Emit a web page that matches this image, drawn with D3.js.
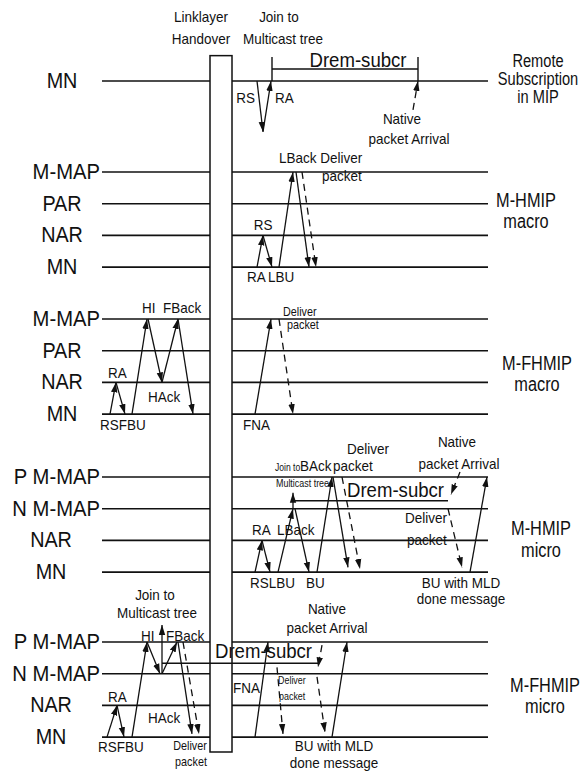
<!DOCTYPE html>
<html><head><meta charset="utf-8">
<script src="https://cdn.jsdelivr.net/npm/d3@7"></script>
<style>body{margin:0;background:#fff}svg{display:block}text{font-family:"Liberation Sans",Arial,sans-serif;fill:#111}</style>
</head><body><svg id="c" width="587" height="776"></svg>
<script>
// ---------- data ----------
const sectionTitles = [["Remote","Subscription","in MIP"],["M-HMIP","macro"],["M-FHMIP","macro"],["M-HMIP","micro"],["M-FHMIP","micro"]];
const laneNames = [["MN"],["M-MAP","PAR","NAR","MN"],["M-MAP","PAR","NAR","MN"],["P M-MAP","N M-MAP","NAR","MN"],["P M-MAP","N M-MAP","NAR","MN"]];
const timeDomain = [0, 386];
const handoverInterval = [108, 130];
// [section, t0, lane0, t1, lane1, kind]  kind: s = solid, d = dashed
const messages = [
  [0,155,0,161,1.6,"s"],[0,161,1.6,169,0,"s"],[0,311,0.91,316,0,"d"],
  [1,155,3,161,2,"s"],[1,161,2,170,3,"s"],[1,177,3,191,0,"s"],[1,194,0,207,3,"s"],[1,200,0,214,3,"d"],
  [2,8,3,14,2,"s"],[2,14,2,23,3,"s"],[2,30,3,45,0,"s"],[2,46,0,60,2,"s"],[2,60,2,76,0,"s"],[2,76,0,91,3,"s"],[2,153,3,169,0,"s"],[2,177,0,191,3,"d"],
  [3,153,3,160,2,"s"],[3,160,2,168,3,"s"],[3,176,3,191,1,"s"],[3,191,1,191,0.5,"s"],[3,193,1,207,3,"s"],[3,215,3,230,0,"s"],[3,231,0,246,2.85,"s"],[3,240,0,258,2.9,"d"],[3,358,-0.16,349,0.55,"d"],[3,346,1,360,2.85,"d"],[3,368,3,385,0,"s"],
  [4,5,3,15,2,"s"],[4,15,2,22,3,"s"],[4,30,3,45,0,"s"],[4,45,0,58,1,"s"],[4,60,1,60,-0.54,"s"],[4,60,1,75,0,"s"],[4,76,0,90,2.9,"s"],[4,81,0,97,2.9,"d"],[4,153,3,166,0,"s"],[4,220,0.1,216,0.8,"d"],[4,175,0.8,181,2.9,"d"],[4,215,1.1,223,2.85,"d"],[4,230,3,245,0,"s"]
];
// [section, tStart, tEnd, lane, withTicks]
const dremIntervals = [[0,170,316,-0.38,true],[3,191,346,0.75,false],[4,60,216,0.67,false]];
// [section, t, lane, text, anchor, sizeClass]
const annotations = [
  [0,99,-1.86,"Linklayer","middle","s"],[0,99,-1.17,"Handover","middle","s"],
  [0,177,-1.86,"Join to","middle","s"],[0,181,-1.17,"Multicast tree","middle","s"],
  [0,153,0.69,"RS","end","s"],[0,173,0.69,"RA","start","s"],
  [0,256,-0.44,"Drem-subcr","middle","b"],[0,300,1.36,"Native","middle","s"],[0,307,1.99,"packet Arrival","middle","s"],
  [1,161,1.83,"RS","middle","s"],[1,145,3.47,"RA","start","s"],[1,166,3.47,"LBU","start","s"],
  [1,177,-0.28,"LBack Deliver","start","s"],[1,220,0.28,"packet","start","s"],
  [2,40,-0.19,"HI","start","s"],[2,61,-0.19,"FBack","start","s"],[2,6,1.86,"RA","start","s"],[2,46,2.62,"HAck","start","s"],
  [2,-2,3.5,"RSFBU","start","s"],[2,141,3.5,"FNA","start","s"],[2,181,-0.1,"Deliver","start","m"],[2,185,0.33,"packet","start","m"],
  [3,245,-0.73,"Deliver","start","s"],[3,173,-0.19,"Join to","start","xs2"],[3,198,-0.19,"BAck","start","s"],[3,231,-0.19,"packet","start","s"],
  [3,174,0.32,"Multicast tree","start","xs"],[3,245,0.63,"Drem-subcr","start","b"],
  [3,355,-0.95,"Native","middle","s"],[3,357,-0.25,"packet Arrival","middle","s"],
  [3,303,1.45,"Deliver","start","s"],[3,305,2.15,"packet","start","s"],
  [3,150,1.83,"RA","start","s"],[3,175,1.83,"LBack","start","s"],[3,148,3.5,"RSLBU","start","s"],[3,204,3.5,"BU","start","s"],
  [3,359,3.5,"BU with MLD","middle","s"],[3,359,4.0,"done message","middle","s"],
  [4,53,-1.32,"Join to","middle","s"],[4,55,-0.76,"Multicast tree","middle","s"],
  [4,39,-0.03,"HI","start","s"],[4,64,-0.03,"FBack","start","s"],[4,6,1.89,"RA","start","s"],[4,46,2.56,"HAck","start","s"],
  [4,-4,3.47,"RSFBU","start","s"],[4,88,3.41,"Deliver","middle","m"],[4,89,3.91,"packet","middle","m"],
  [4,113,0.5,"Drem-subcr","start","b"],[4,131,1.61,"FNA","start","s"],
  [4,176,1.32,"Deliver","start","xs"],[4,177,1.83,"packet","start","xs"],
  [4,225,-0.88,"Native","middle","s"],[4,225,-0.28,"packet Arrival","middle","s"],
  [4,232,3.44,"BU with MLD","middle","s"],[4,232,3.97,"done message","middle","s"]
];

// ---------- layout ----------
const svg = d3.select("#c");
const x = d3.scaleLinear().domain(timeDomain).range([102, 488]);
const secTop = [81, 172, 319, 477, 642], laneGap = 31.7;
const yS = secTop.map(t => d3.scaleLinear().domain([0, 1]).range([t, t + laneGap]));
const Y = (s, l) => yS[s](l);
const sizes = {s: [15, 0.9], m: [12, 0.9], xs2: [11, 0.78], xs: [10.5, 0.85], b: [20, 0.93]};
const ink = "#111";

function txt(px, py, str, size, anchor, sx, sy) {
  svg.append("text").attr("transform", `translate(${px},${py}) scale(${sx},${sy || 1})`)
    .attr("text-anchor", anchor).attr("font-size", size).text(str);
}

svg.append("defs").append("marker").attr("id", "ah").attr("viewBox", "0 -4 10 8")
  .attr("refX", 10).attr("refY", 0).attr("markerUnits", "userSpaceOnUse")
  .attr("markerWidth", 10).attr("markerHeight", 8).attr("orient", "auto")
  .append("path").attr("d", "M0,-3.2L10,0L0,3.2Z").attr("fill", ink);

// lanes
laneNames.forEach((names, s) => {
  names.forEach((n, i) => {
    svg.append("line").attr("x1", x(timeDomain[0])).attr("x2", x(timeDomain[1]))
      .attr("y1", Y(s, i)).attr("y2", Y(s, i)).attr("stroke", ink).attr("stroke-width", 1.6);
    const yy = Y(s, i) + 7;
    if (n.length > 3) txt(x(timeDomain[0]) - 2, yy, n, 22, "end", 0.92);
    else txt(s < 3 ? 62 : 51, yy, n, 22, "middle", 0.9);
  });
});

// handover bar
svg.append("rect").attr("x", x(handoverInterval[0])).attr("y", Y(0, -0.8))
  .attr("width", x(handoverInterval[1]) - x(handoverInterval[0]))
  .attr("height", Y(4, 3.47) - Y(0, -0.8))
  .attr("fill", "#fff").attr("stroke", ink).attr("stroke-width", 1.5);

// Drem-subcr intervals
dremIntervals.forEach(([s, t0, t1, l, ticks]) => {
  svg.append("line").attr("x1", x(t0)).attr("x2", x(t1)).attr("y1", Y(s, l)).attr("y2", Y(s, l))
    .attr("stroke", ink).attr("stroke-width", 1.6);
  if (ticks) [t0, t1].forEach(t => svg.append("line").attr("x1", x(t)).attr("x2", x(t))
    .attr("y1", Y(s, l - 0.38)).attr("y2", Y(s, 0)).attr("stroke", ink).attr("stroke-width", 1.4));
});

// messages
svg.selectAll("line.msg").data(messages).enter().append("line").attr("class", "msg")
  .attr("x1", d => x(d[1])).attr("y1", d => Y(d[0], d[2]))
  .attr("x2", d => x(d[3])).attr("y2", d => Y(d[0], d[4]))
  .attr("stroke", ink).attr("stroke-width", 1.3)
  .attr("stroke-dasharray", d => d[5] === "d" ? "7,5" : null)
  .attr("marker-end", "url(#ah)");

// annotations
annotations.forEach(([s, t, l, str, anchor, cls]) => {
  const [fs, sx] = sizes[cls];
  txt(x(t), Y(s, l), str, fs, anchor, sx);
});

// section titles
const titleX = [538, 526, 537, 541, 545];
const titleY = [[67, 85, 103], [207, 228], [370, 391], [535, 557], [692, 713]];
sectionTitles.forEach((lines, s) => lines.forEach((ln, k) =>
  txt(titleX[s], titleY[s][k], ln, s === 0 ? 17 : 19, "middle", 0.86, s === 0 ? 1.04 : 1.05)));
</script></body></html>
